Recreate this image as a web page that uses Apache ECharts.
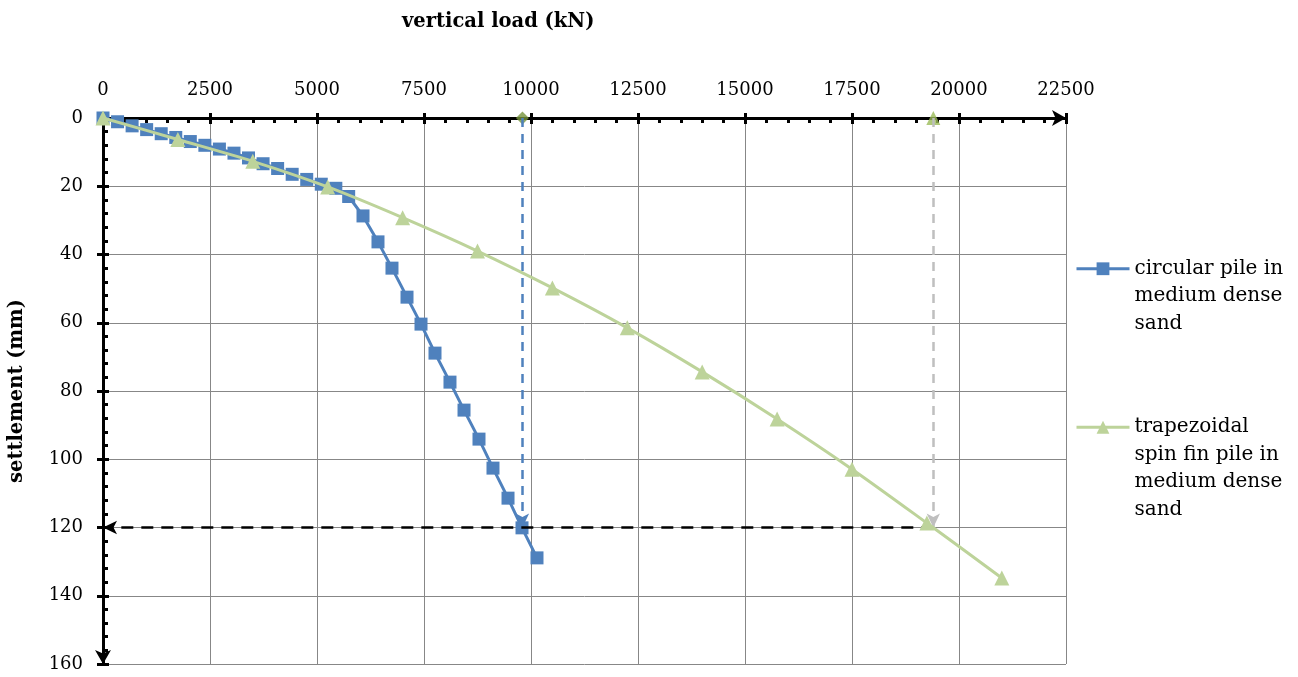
<!DOCTYPE html>
<html>
<head>
<meta charset="utf-8">
<script src="https://cdn.jsdelivr.net/npm/echarts@6/dist/echarts.min.js"></script>
<style>
html,body{margin:0;padding:0;background:#fff;}
#chart{width:1298px;height:677px;}
</style>
</head>
<body>
<div id="chart"></div>
<script>
// ---- data ----
const circularLoad = [0, 340, 680, 1020, 1360, 1700, 2040, 2380, 2720, 3060, 3400, 3740, 4080, 4420, 4760, 5100, 5440, 5740, 6075, 6425, 6752, 7103, 7430, 7757, 8107, 8435, 8785, 9112, 9463, 9790, 10140];
const circularSettle = [0, 1.1, 2.3, 3.4, 4.6, 5.7, 6.9, 8.0, 9.1, 10.3, 11.7, 13.4, 14.8, 16.5, 18.0, 19.4, 20.6, 23.0, 28.7, 36.3, 44.0, 52.5, 60.4, 68.9, 77.4, 85.6, 94.1, 102.6, 111.4, 120.1, 128.9];
const trapLoad = [0, 1750, 3500, 5250, 7000, 8750, 10500, 12250, 14000, 15750, 17500, 19250, 21000];
const trapSettle = [0, 6.3, 12.7, 20.2, 29.2, 39.0, 49.8, 61.5, 74.4, 88.2, 102.9, 118.7, 134.8];
const refLoadCircular = 9800;
const refLoadTrap = 19400;
const refSettlement = 120;
const seriesNames = ['circular pile in medium dense sand', 'trapezoidal spin fin pile in medium dense sand'];
const legendLines = [['circular pile in', 'medium dense', 'sand'], ['trapezoidal', 'spin fin pile in', 'medium dense', 'sand']];
const xTitle = 'vertical load (kN)';
const yTitle = 'settlement (mm)';
const xMin = 0, xMax = 22500, xStep = 2500;
const yMin = 0, yMax = 160, yStep = 20;

const FONT = 'DejaVu Serif';
const zip = (a, b) => a.map((v, i) => [v, b[i]]);

const chart = echarts.init(document.getElementById('chart'), null, {renderer: 'canvas'});

const axisLineStyle = {color: '#000', width: 3};
const legendFormatter = (name) => {
  const idx = seriesNames.indexOf(name);
  const lines = legendLines[idx];
  const pad = new Array(lines.length - 1).fill('').join('\n');
  return pad + '\n' + lines.join('\n');
};
const plain = (v) => String(v);
const tickStyle = {color: '#000', width: 3};

const option = {
  backgroundColor: '#fff',
  animation: false,
  title: {
    text: xTitle,
    left: 397, top: 7,
    textStyle: {fontFamily: FONT, fontSize: 19.5, fontWeight: 'bold', color: '#000'}
  },
  grid: {left: 103, top: 118, right: 232, bottom: 13, containLabel: false, outerBoundsMode: 'none'},
  legend: [{
    data: [seriesNames[0]],
    orient: 'vertical', left: 1075, top: 200, padding: 0,
    itemWidth: 53, itemHeight: 16, itemGap: 0,
    lineStyle: {width: 3},
    formatter: legendFormatter,
    textStyle: {fontFamily: FONT, fontSize: 20, lineHeight: 27.5, color: '#000'}
  }, {
    data: [seriesNames[1]],
    orient: 'vertical', left: 1075, top: 331, padding: 0,
    itemWidth: 53, itemHeight: 16, itemGap: 0,
    lineStyle: {width: 3},
    formatter: legendFormatter,
    textStyle: {fontFamily: FONT, fontSize: 20, lineHeight: 27.5, color: '#000'}
  }],
  xAxis: [{
    type: 'value', position: 'top', min: xMin, max: xMax, interval: xStep,
    axisLine: {show: true, onZero: false, lineStyle: axisLineStyle, symbol: ['none', 'arrow'], symbolSize: [12, 14]},
    axisTick: {show: true, inside: true, length: 6, lineStyle: tickStyle},
    minorTick: {show: true, splitNumber: 5, length: 5, lineStyle: tickStyle},
    axisLabel: {fontFamily: FONT, fontSize: 18, color: '#000', margin: 19, formatter: plain},
    splitLine: {show: true, lineStyle: {color: '#878787', width: 1}}
  }, {
    type: 'value', position: 'top', min: xMin, max: xMax, interval: xStep,
    axisLine: {show: false, onZero: false},
    axisTick: {show: true, inside: false, length: 5, lineStyle: tickStyle},
    axisLabel: {show: false},
    splitLine: {show: false}
  }],
  yAxis: [{
    type: 'value', position: 'left', inverse: true, min: yMin, max: yMax, interval: yStep,
    name: yTitle, nameLocation: 'middle', nameGap: 76, nameRotate: 90,
    nameTextStyle: {fontFamily: FONT, fontSize: 19.5, fontWeight: 'bold', color: '#000'},
    axisLine: {show: true, onZero: false, lineStyle: axisLineStyle, symbol: ['arrow', 'none'], symbolSize: [12, 14]},
    axisTick: {show: true, inside: false, length: 6, lineStyle: tickStyle},
    minorTick: {show: false},
    axisLabel: {fontFamily: FONT, fontSize: 18, color: '#000', margin: 20, formatter: plain},
    splitLine: {show: true, lineStyle: {color: '#878787', width: 1}}
  }, {
    type: 'value', position: 'left', inverse: true, min: yMin, max: yMax, interval: yStep,
    axisLine: {show: false, onZero: false},
    axisTick: {show: true, inside: true, length: 6, lineStyle: tickStyle},
    axisLabel: {show: false},
    splitLine: {show: false}
  }, {
    type: 'value', position: 'right', offset: -963, inverse: true, min: yMin, max: yMax, interval: yStep,
    axisLine: {show: false, onZero: false},
    axisTick: {show: false},
    minorTick: {show: true, splitNumber: 5, length: 5, lineStyle: tickStyle},
    axisLabel: {show: false},
    splitLine: {show: false}
  }],
  series: [
    {
      name: 'refCircular', type: 'scatter', xAxisIndex: 0, yAxisIndex: 0,
      data: [[refLoadCircular, 0]], symbol: 'diamond', symbolSize: 13,
      itemStyle: {color: '#77933C'}, z: 3,
      markLine: {
        silent: true, symbol: ['none', 'arrow'], symbolSize: [10, 14], label: {show: false},
        lineStyle: {color: '#4F81BD', type: [9, 7], width: 2.5},
        data: [[{coord: [refLoadCircular, 0]}, {coord: [refLoadCircular, refSettlement]}]]
      }
    },
    {
      name: 'refTrap', type: 'scatter', xAxisIndex: 0, yAxisIndex: 0,
      data: [[refLoadTrap, 0]], symbol: 'triangle', symbolSize: 14,
      itemStyle: {color: '#9BBB59'}, z: 3,
      markLine: {
        silent: true, symbol: ['none', 'arrow'], symbolSize: [10, 14], label: {show: false},
        lineStyle: {color: '#BFBFBF', type: [9, 7], width: 2.5},
        data: [[{coord: [refLoadTrap, 0]}, {coord: [refLoadTrap, refSettlement]}]]
      }
    },
    {
      name: 'refSettle', type: 'scatter', xAxisIndex: 0, yAxisIndex: 0,
      data: [], z: 3,
      markLine: {
        silent: true, symbol: ['none', 'arrow'], symbolSize: [10, 14], label: {show: false},
        lineStyle: {color: '#000', type: [12, 8], width: 2.5},
        data: [[{coord: [refLoadTrap, refSettlement]}, {coord: [0, refSettlement]}]]
      }
    },
    {
      name: seriesNames[0], type: 'line', xAxisIndex: 0, yAxisIndex: 0,
      data: zip(circularLoad, circularSettle),
      symbol: 'rect', symbolSize: 13, showAllSymbol: true,
      lineStyle: {color: '#4F81BD', width: 3},
      itemStyle: {color: '#4F81BD'}, z: 4
    },
    {
      name: seriesNames[1], type: 'line', xAxisIndex: 0, yAxisIndex: 0,
      data: zip(trapLoad, trapSettle), smooth: 0.3,
      symbol: 'triangle', symbolSize: 15, showAllSymbol: true,
      lineStyle: {color: '#BDD39A', width: 3},
      itemStyle: {color: '#BDD39A'}, z: 5
    }
  ]
};
chart.setOption(option);
</script>
</body>
</html>
